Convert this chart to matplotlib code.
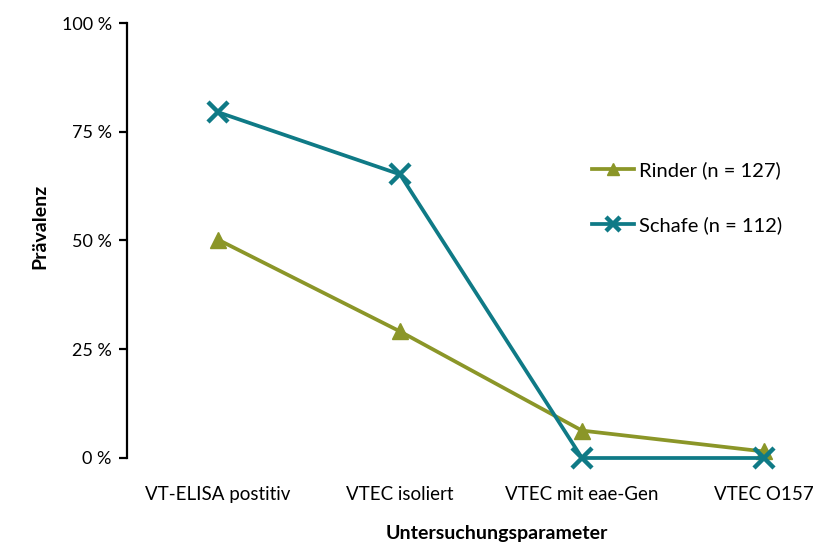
import numpy as np
import matplotlib
matplotlib.use("Agg")
import matplotlib.pyplot as plt
from matplotlib.ticker import FuncFormatter

plt.rcParams['font.family'] = ['Lato', 'DejaVu Sans']

# Data
categories = ["VT-ELISA postitiv", "VTEC isoliert", "VTEC mit eae-Gen", "VTEC O157"]
rinder = [50.2, 29.1, 6.3, 1.5]
schafe = [79.5, 65.2, 0.0, 0.0]
yticks = [0, 25, 50, 75, 100]

olive = "#8b9628"
teal = "#0f7a86"

fig = plt.figure(figsize=(8.19, 5.47), dpi=100)
W, H = 819, 547
AW = W - 127
ax = fig.add_axes([127 / W, (H - 458) / H, AW / W, 435 / H])

x = np.arange(len(categories))
ax.plot(x, rinder, color=olive, lw=2.7, marker="^", ms=12, mec=olive, mfc=olive,
        label="Rinder (n = 127)", clip_on=False, zorder=3)
ax.plot(x, schafe, color=teal, lw=2.7, marker="x", ms=15, mew=3.2,
        label="Schafe (n = 112)", clip_on=False, zorder=4)

ax.set_xlim(-0.5, 3 + (W - 764) / 182)
ax.set_ylim(0, 100)
ax.set_yticks(yticks)
ax.yaxis.set_major_formatter(FuncFormatter(lambda v, p: f"{int(v)} %"))
ax.set_xticks(x)
ax.set_xticklabels(categories)

for s in ["top", "right", "bottom"]:
    ax.spines[s].set_visible(False)
ax.spines["left"].set_linewidth(1.6)
ax.tick_params(axis="y", length=6, width=1.6, labelsize=13, pad=5)
ax.tick_params(axis="x", length=0, labelsize=13.5, pad=20)

ax.set_ylabel("Prävalenz", fontsize=14, fontweight="bold")
ax.yaxis.label.set_va("center")
ax.yaxis.set_label_coords((40 - 127) / AW, (458 - 226) / 435)
ax.set_xlabel("Untersuchungsparameter", fontsize=14, fontweight="bold")
ax.xaxis.label.set_va("center")
ax.xaxis.set_label_coords((497 - 127) / AW, -(533 - 458) / 435)

leg = ax.legend(loc="upper left", bbox_to_anchor=((582 - 127) / AW, (458 - 151) / 435),
                frameon=False, fontsize=14.5, labelspacing=1.85, handlelength=2.1,
                handletextpad=0.25, markerscale=0.7, borderpad=0)

fig.savefig("out.png", dpi=100)
